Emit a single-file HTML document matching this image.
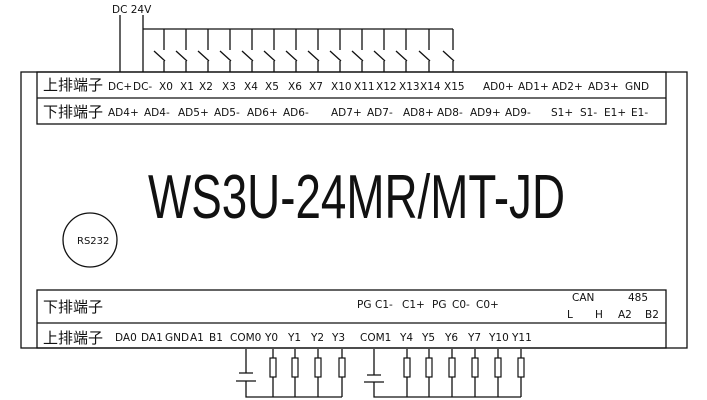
<!DOCTYPE html>
<html><head><meta charset="utf-8"><style>
html,body{margin:0;padding:0;background:#fff;}
svg{display:block;}
text{font-family:"DejaVu Sans","Liberation Sans",sans-serif;font-size:10.5px;fill:#111;}
.cn{font-family:"Liberation Sans","Noto Sans CJK SC",sans-serif;font-size:15px;}
</style></head><body>
<svg width="707" height="400" viewBox="0 0 707 400" xmlns="http://www.w3.org/2000/svg">
<g stroke="#111" stroke-width="1.3" fill="none">
<!-- outer box -->
<rect x="21" y="72" width="666" height="276"/>
<rect x="37" y="72" width="629" height="52"/>
<line x1="37" y1="98" x2="666" y2="98"/>
<rect x="37" y="290" width="629" height="58"/>
<line x1="37" y1="323" x2="666" y2="323"/>
<!-- DC lines -->
<line x1="120" y1="15" x2="120" y2="72"/>
<line x1="143" y1="15" x2="143" y2="72"/>
<line x1="143" y1="29" x2="453" y2="29"/>
<path d="M164 29V50M154 51L165 61M164 61V72M186 29V50M176 51L187 61M186 61V72M208 29V50M198 51L209 61M208 61V72M230 29V50M220 51L231 61M230 61V72M252 29V50M242 51L253 61M252 61V72M274 29V50M264 51L275 61M274 61V72M296 29V50M286 51L297 61M296 61V72M318 29V50M308 51L319 61M318 61V72M340 29V50M330 51L341 61M340 61V72M362 29V50M352 51L363 61M362 61V72M384 29V50M374 51L385 61M384 61V72M406 29V50M396 51L407 61M406 61V72M429 29V50M419 51L430 61M429 61V72M453 29V50M443 51L454 61M453 61V72"/>
<!-- RS232 -->
<circle cx="90" cy="240" r="27"/>
<!-- bottom wiring left -->
<path d="M246 349V373M239 373H253M236 381H256M246 381V397H342"/>
<path d="M273 349V397M295 349V397M318 349V397M342 349V397"/>
<path d="M374 349V375M367 375H381M364 382H384M374 382V397H521"/>
<path d="M407 349V397M429 349V397M452 349V397M475 349V397M498 349V397M521 349V397"/>
</g>
<g fill="#fff" stroke="#111" stroke-width="1.2">
<rect x="270" y="358" width="6" height="19"/><rect x="292" y="358" width="6" height="19"/><rect x="315" y="358" width="6" height="19"/><rect x="339" y="358" width="6" height="19"/>
<rect x="404" y="358" width="6" height="19"/><rect x="426" y="358" width="6" height="19"/><rect x="449" y="358" width="6" height="19"/><rect x="472" y="358" width="6" height="19"/><rect x="495" y="358" width="6" height="19"/><rect x="518" y="358" width="6" height="19"/>
</g>
<text x="112" y="13">DC 24V</text>
<text class="cn" x="43" y="90">上排端子</text>
<text class="cn" x="43" y="117">下排端子</text>
<text class="cn" x="43" y="312">下排端子</text>
<text class="cn" x="43" y="343">上排端子</text>
<g>
<text x="108" y="90">DC+</text><text x="133" y="90">DC-</text><text x="159" y="90">X0</text><text x="180" y="90">X1</text><text x="199" y="90">X2</text><text x="222" y="90">X3</text><text x="244" y="90">X4</text><text x="265" y="90">X5</text><text x="288" y="90">X6</text><text x="309" y="90">X7</text><text x="331" y="90">X10</text><text x="354" y="90">X11</text><text x="376" y="90">X12</text><text x="399" y="90">X13</text><text x="420" y="90">X14</text><text x="444" y="90">X15</text><text x="483" y="90">AD0+</text><text x="518" y="90">AD1+</text><text x="552" y="90">AD2+</text><text x="588" y="90">AD3+</text><text x="625" y="90">GND</text>
<text x="108" y="116">AD4+</text><text x="144" y="116">AD4-</text><text x="178" y="116">AD5+</text><text x="214" y="116">AD5-</text><text x="247" y="116">AD6+</text><text x="283" y="116">AD6-</text><text x="331" y="116">AD7+</text><text x="367" y="116">AD7-</text><text x="403" y="116">AD8+</text><text x="437" y="116">AD8-</text><text x="470" y="116">AD9+</text><text x="505" y="116">AD9-</text><text x="551" y="116">S1+</text><text x="580" y="116">S1-</text><text x="604" y="116">E1+</text><text x="631" y="116">E1-</text>
<text x="357" y="308">PG</text><text x="375" y="308">C1-</text><text x="402" y="308">C1+</text><text x="432" y="308">PG</text><text x="452" y="308">C0-</text><text x="476" y="308">C0+</text>
<text x="572" y="301">CAN</text><text x="628" y="301">485</text>
<text x="567" y="318">L</text><text x="595" y="318">H</text><text x="618" y="318">A2</text><text x="645" y="318">B2</text>
<text x="115" y="341">DA0</text><text x="141" y="341">DA1</text><text x="165" y="341">GND</text><text x="190" y="341">A1</text><text x="209" y="341">B1</text><text x="230" y="341">COM0</text><text x="265" y="341">Y0</text><text x="288" y="341">Y1</text><text x="311" y="341">Y2</text><text x="332" y="341">Y3</text><text x="360" y="341">COM1</text><text x="400" y="341">Y4</text><text x="422" y="341">Y5</text><text x="445" y="341">Y6</text><text x="468" y="341">Y7</text><text x="489" y="341">Y10</text><text x="512" y="341">Y11</text>
<text x="77" y="244" style="font-size:10px">RS232</text>
</g>
<text x="148" y="218" textLength="417" lengthAdjust="spacingAndGlyphs" style="font-family:'Liberation Sans',sans-serif;font-size:62px;">WS3U-24MR/MT-JD</text>
</svg>
</body></html>
